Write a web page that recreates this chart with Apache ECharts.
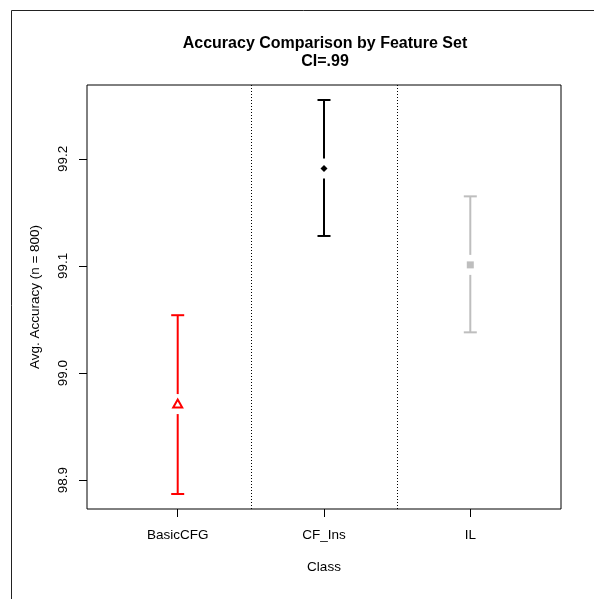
<!DOCTYPE html>
<html>
<head>
<meta charset="utf-8">
<script src="https://cdn.jsdelivr.net/npm/echarts@6/dist/echarts.min.js"></script>
<style>
  html, body { margin: 0; padding: 0; background: #fff; }
  #chart { width: 594px; height: 599px; }
</style>
</head>
<body>
<div id="chart"></div>
<script>
// Feature sets and their 99% confidence intervals of average accuracy
const classes = ['BasicCFG', 'CF_Ins', 'IL'];
const positions = [1, 2, 3];
const means = [98.971, 99.191, 99.101];
const lower = [98.887, 99.128, 99.038];
const upper = [99.054, 99.255, 99.165];
const colors = ['#ff0000', '#000000', '#bebebe'];
const markerShapes = ['triangle', 'diamond', 'square'];
const yTicks = [98.9, 99.0, 99.1, 99.2];
const separators = [1.5, 2.5];

const FONT = '"Liberation Sans", Arial, Helvetica, sans-serif';

const chart = echarts.init(document.getElementById('chart'), null, { renderer: 'canvas' });

const barData = positions.map((p, i) => [p, lower[i], upper[i], means[i], i]);

function renderErrorBar(params, api) {
  const x = api.value(0), lo = api.value(1), hi = api.value(2), m = api.value(3), idx = api.value(4);
  const pHi = api.coord([x, hi]);
  const pLo = api.coord([x, lo]);
  const pM = api.coord([x, m]);
  const color = colors[idx];
  const gap = 10;
  const cap = 6.5;
  const ls = { stroke: color, lineWidth: 2 };
  const children = [
    { type: 'line', shape: { x1: pHi[0], y1: pHi[1], x2: pM[0], y2: pM[1] - gap }, style: ls },
    { type: 'line', shape: { x1: pM[0], y1: pM[1] + gap, x2: pLo[0], y2: pLo[1] }, style: ls },
    { type: 'line', shape: { x1: pHi[0] - cap, y1: pHi[1], x2: pHi[0] + cap, y2: pHi[1] }, style: ls },
    { type: 'line', shape: { x1: pLo[0] - cap, y1: pLo[1], x2: pLo[0] + cap, y2: pLo[1] }, style: ls }
  ];
  const shape = markerShapes[idx];
  if (shape === 'triangle') {
    children.push({
      type: 'polygon',
      shape: { points: [[pM[0], pM[1] - 4.5], [pM[0] + 4.5, pM[1] + 3.5], [pM[0] - 4.5, pM[1] + 3.5]] },
      style: { fill: 'none', stroke: color, lineWidth: 2 }
    });
  } else if (shape === 'diamond') {
    children.push({
      type: 'polygon',
      shape: { points: [[pM[0], pM[1] - 3.5], [pM[0] + 3.5, pM[1]], [pM[0], pM[1] + 3.5], [pM[0] - 3.5, pM[1]]] },
      style: { fill: color }
    });
  } else {
    children.push({
      type: 'rect',
      shape: { x: pM[0] - 3.5, y: pM[1] - 3.5, width: 7, height: 7 },
      style: { fill: color }
    });
  }
  return { type: 'group', children };
}

chart.setOption({
  animation: false,
  backgroundColor: '#fff',
  title: {
    text: 'Accuracy Comparison by Feature Set\nCI=.99',
    left: 320,
    textAlign: 'center',
    top: 30,
    textStyle: { fontFamily: FONT, fontSize: 16, fontWeight: 'bold', color: '#000', lineHeight: 18 }
  },
  graphic: [{
    type: 'rect',
    left: 9,
    top: 8,
    shape: { width: 700, height: 700 },
    style: { fill: 'none', stroke: '#222', lineWidth: 1 },
    silent: true
  }],
  grid: {
    left: 87, right: 33, top: 85, bottom: 90,
    show: true, borderColor: '#000', borderWidth: 1, backgroundColor: 'transparent'
  },
  xAxis: {
    type: 'value',
    min: 0.38,
    max: 3.62,
    name: 'Class',
    nameLocation: 'middle',
    nameGap: 51,
    nameTextStyle: { fontFamily: FONT, fontSize: 13.5, color: '#000' },
    axisLine: { show: false },
    splitLine: { show: false },
    axisTick: { show: true, customValues: positions, length: 8, lineStyle: { color: '#000' } },
    axisLabel: {
      customValues: positions,
      formatter: v => classes[Math.round(v) - 1],
      fontFamily: FONT, fontSize: 13.5, color: '#000', margin: 19
    }
  },
  yAxis: {
    type: 'value',
    min: 98.873,
    max: 99.269,
    name: 'Avg. Accuracy (n = 800)',
    nameLocation: 'middle',
    nameGap: 45,
    nameRotate: 90,
    nameTextStyle: { fontFamily: FONT, fontSize: 13.5, color: '#000' },
    axisLine: { show: false },
    splitLine: { show: false },
    axisTick: { show: true, customValues: yTicks, length: 8, lineStyle: { color: '#000' } },
    axisLabel: {
      customValues: yTicks,
      rotate: 90,
      formatter: v => v.toFixed(1),
      fontFamily: FONT, fontSize: 13.5, color: '#000', margin: 17
    }
  },
  series: [
    {
      type: 'custom',
      renderItem: renderErrorBar,
      data: barData,
      encode: { x: 0, y: [1, 2] },
      silent: true,
      z: 3,
      markLine: {
        silent: true,
        symbol: 'none',
        label: { show: false },
        lineStyle: { type: [1, 2], color: '#000', width: 1 },
        data: separators.map(v => ({ xAxis: v }))
      }
    }
  ]
});
</script>
</body>
</html>
